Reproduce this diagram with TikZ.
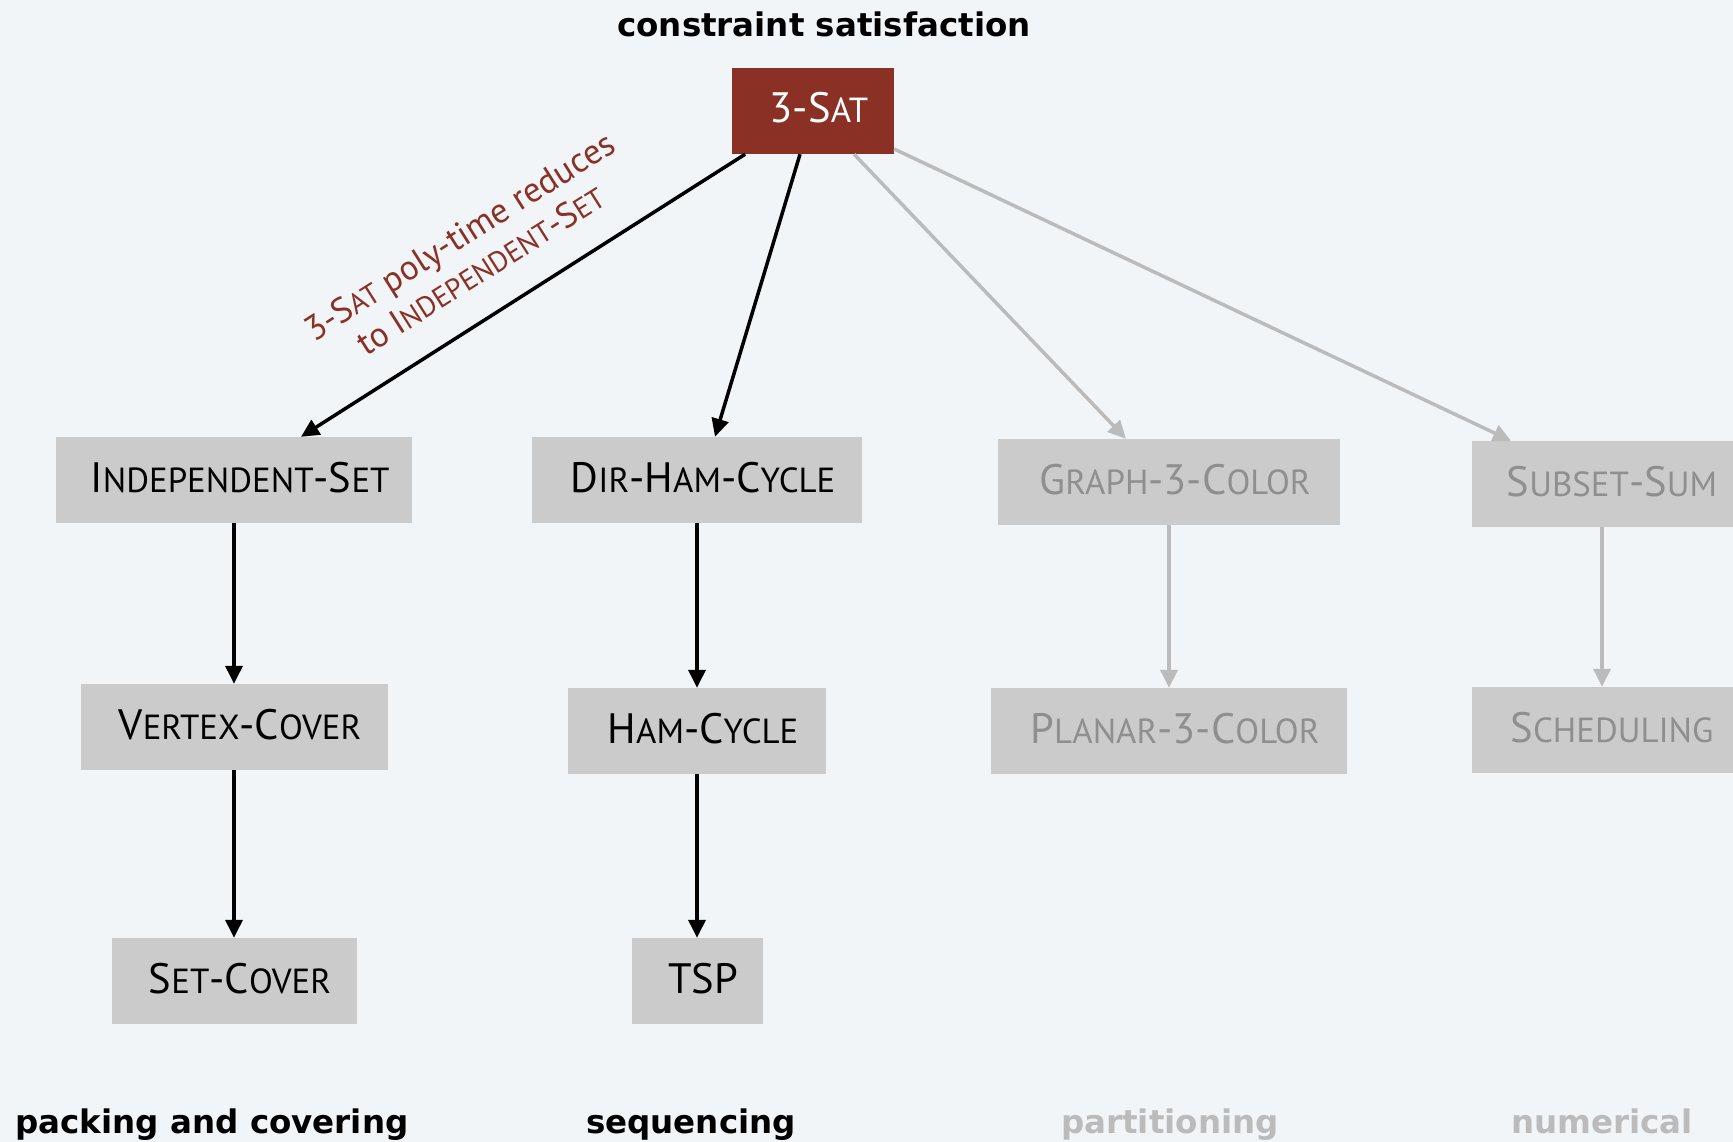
\documentclass[tikz,border=0pt]{standalone}
\usepackage{fontspec}
\setmainfont{PT Sans}
\newfontfamily\headfont{DejaVu Sans}
\usetikzlibrary{arrows.meta,calc}
\definecolor{bg}{HTML}{F1F5F8}
\definecolor{boxgray}{HTML}{CBCBCB}
\definecolor{satred}{HTML}{8B3024}
\definecolor{dimtext}{HTML}{8F8F8F}
\definecolor{dimline}{HTML}{BBBBBB}
% fake small caps: lower part set in a smaller size of the same face
\makeatletter
\newcommand\sm[1]{{\pgfmathsetmacro\smsz{0.82*\f@size}\fontsize{\smsz}{\smsz}\selectfont #1}}
\makeatother
\begin{document}
\begin{tikzpicture}[x=1pt,y=-1pt,
  prob/.style={fill=boxgray, inner sep=0pt, minimum height=86pt,
    font=\fontsize{42.5}{42.5}\selectfont, text height=30pt, text depth=6pt,
    execute at begin node=\hspace*{12pt}},
  dimprob/.style={prob, text=dimtext},
  satbox/.style={prob, fill=satred, text=white},
  head/.style={font=\headfont\bfseries\fontsize{32.5}{36}\selectfont, anchor=base},
  dimhead/.style={head, text=dimline},
  tip/.style={-{Triangle[length=18pt,width=17pt]}},
  red/.style={draw=black, line width=3.5pt, tip},
  dimred/.style={draw=dimline, line width=3.5pt, tip}]
\fill[bg] (0,0) rectangle (1733,1142);
\useasboundingbox (0,0) rectangle (1733,1142);

% category headings
\node[head] (thead) at (824,37) {constraint satisfaction};
\node[head] (c1) at (212,1133) {packing and covering};
\node[head] (c2) at (691,1133) {sequencing};
\node[dimhead] (c3) at (1170,1133) {partitioning};
\node[dimhead] (c4) at (1602,1133) {numerical};

% problems
\node[satbox, minimum width=162pt] (sat) at (813,111) {3-S\sm{AT}};

\node[prob, minimum width=356pt] (is) at (234,480) {I\sm{NDEPENDENT}-S\sm{ET}};
\node[prob, minimum width=307pt] (vc) at (234,727) {V\sm{ERTEX}-C\sm{OVER}};
\node[prob, minimum width=245pt] (sc) at (234,981) {S\sm{ET}-C\sm{OVER}};

\node[prob, minimum width=330pt] (dhc) at (697,480) {D\sm{IR}-H\sm{AM}-C\sm{YCLE}};
\node[prob, minimum width=258pt] (hc) at (697,731) {H\sm{AM}-C\sm{YCLE}};
\node[prob, minimum width=131pt] (tsp) at (697,981) {TSP};

\node[dimprob, minimum width=342pt] (g3c) at (1169,482) {G\sm{RAPH}-3-C\sm{OLOR}};
\node[dimprob, minimum width=356pt] (p3c) at (1169,731) {P\sm{LANAR}-3-C\sm{OLOR}};

\node[dimprob, minimum width=268pt] (ss) at (1606,484) {S\sm{UBSET}-S\sm{UM}};
\node[dimprob, minimum width=268pt] (sch) at (1606,730) {S\sm{CHEDULING}};

% reductions out of 3-SAT
\draw[red] (sat) -- ($(is.north)+(67,0)$);
\draw[red] (sat) -- ($(dhc.north)+(18,0)$);
\draw[dimred] (sat) -- ($(g3c.north)+(-43,0)$);
\draw[dimred] (sat) -- ($(ss.north)+(-95,0)$);

% reductions within each family
\draw[red] (is) -- (vc);
\draw[red] (vc) -- (sc);
\draw[red] (dhc) -- (hc);
\draw[red] (hc) -- (tsp);
\draw[dimred] (g3c) -- (p3c);
\draw[dimred] (ss.south -| 1602,0) -- (sch.north -| 1602,0);

% edge label
\node[text=satred, rotate=32.3, align=center, inner sep=0pt,
  font=\fontsize{35}{40}\selectfont] (lbl) at (470,253)
  {3-S\sm{AT} poly-time reduces\\to I\sm{NDEPENDENT}-S\sm{ET}};
\end{tikzpicture}
\end{document}
